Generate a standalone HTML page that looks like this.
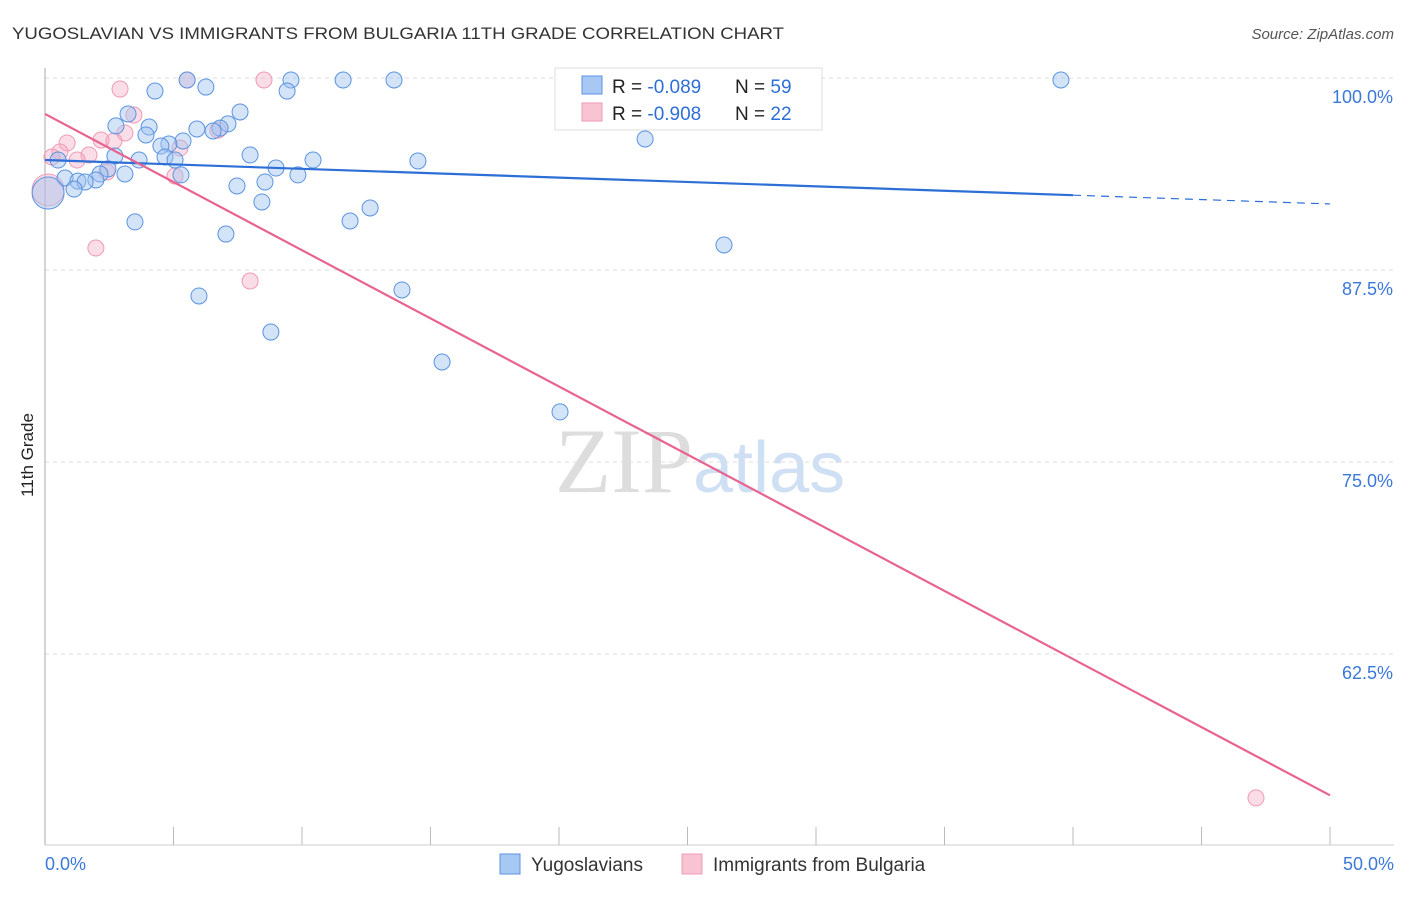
<!DOCTYPE html>
<html><head><meta charset="utf-8"><style>
body{margin:0;background:#fff;font-family:"Liberation Sans",sans-serif;}
</style></head><body>
<svg id="c" width="1406" height="892" xmlns="http://www.w3.org/2000/svg">
<text x="12" y="39" font-size="17" fill="#333" textLength="772" lengthAdjust="spacingAndGlyphs">YUGOSLAVIAN VS IMMIGRANTS FROM BULGARIA 11TH GRADE CORRELATION CHART</text>
<text x="1394" y="39" font-size="15" fill="#555" text-anchor="end" font-style="italic">Source: ZipAtlas.com</text>
<text x="555" y="492" font-size="92" fill="#ddd" font-family="Liberation Serif,serif">ZIP<tspan fill="#cfe0f5" font-family="Liberation Sans,sans-serif" font-size="72">atlas</tspan></text>
<text transform="translate(33,455) rotate(-90)" font-size="17" fill="#222" text-anchor="middle">11th Grade</text>
<g id="grid"></g><g id="pts"></g><g id="lines"></g>
<g>
<rect x="555" y="68" width="267" height="62" fill="#fff" stroke="#ddd"/>
<rect x="582" y="76" width="20" height="18" fill="#a8c8f4" stroke="#5b93e0"/>
<rect x="582" y="103" width="20" height="18" fill="#f8c4d4" stroke="#ef9ab5"/>
<text x="612" y="93" font-size="19" fill="#222">R = <tspan fill="#2d6fd6">-0.089</tspan></text>
<text x="735" y="93" font-size="19" fill="#222">N = <tspan fill="#2d6fd6">59</tspan></text>
<text x="612" y="120" font-size="19" fill="#222">R = <tspan fill="#2d6fd6">-0.908</tspan></text>
<text x="735" y="120" font-size="19" fill="#222">N = <tspan fill="#2d6fd6">22</tspan></text>
</g>
<g>
<rect x="500" y="854" width="20" height="20" fill="#a8c8f4" stroke="#5b93e0"/>
<text x="531" y="871" font-size="19" fill="#333">Yugoslavians</text>
<rect x="682" y="854" width="20" height="20" fill="#f8c4d4" stroke="#ef9ab5"/>
<text x="713" y="871" font-size="19" fill="#333">Immigrants from Bulgaria</text>
</g>
</svg>
<script>
const blueX=[4.28,5.53,6.26,9.57,9.42,11.6,13.58,39.53,20.62,3.23,7.59,2.76,4.05,7.12,6.81,5.91,6.54,3.93,5.37,4.82,4.51,23.35,7.98,2.72,0.51,3.66,4.67,5.06,10.43,14.51,8.99,2.45,2.14,3.11,5.29,9.84,0.78,1.28,1.98,1.56,1.13,7.47,8.56,8.44,12.65,11.87,3.5,7.04,26.42,5.99,13.89,8.79,15.45,20.04,0.12];
const blueY=[99.15,99.87,99.41,99.87,99.15,99.87,99.87,99.87,98.83,97.66,97.79,96.88,96.81,97.01,96.74,96.68,96.55,96.29,95.9,95.7,95.57,96.03,94.99,94.92,94.66,94.66,94.86,94.66,94.66,94.6,94.14,94.08,93.75,93.75,93.69,93.69,93.49,93.29,93.36,93.23,92.77,92.97,93.23,91.93,91.54,90.69,90.63,89.84,89.13,85.81,86.2,83.46,81.51,78.26,92.51];
const pinkX=[5.53,8.52,2.92,3.46,3.11,2.18,0.86,2.68,6.73,5.25,1.71,0.58,0.27,1.25,2.41,5.06,1.98,7.98,47.12,0.12];
const pinkY=[99.87,99.87,99.28,97.59,96.42,95.96,95.77,95.9,96.61,95.44,94.99,95.18,94.86,94.66,93.88,93.62,88.93,86.78,53.13,92.71];
const yTicks=[100,87.5,75,62.5];
const yTickLabels=["100.0%","87.5%","75.0%","62.5%"];
const blueTrend=[94.66,91.8];
const pinkTrend=[97.66,53.3];
const NS="http://www.w3.org/2000/svg";
const X=v=>45+v/50*1285, Y=v=>78+(100-v)/12.5*192;
function mk(t,a,p){const e=document.createElementNS(NS,t);for(const k in a)e.setAttribute(k,a[k]);p.appendChild(e);return e;}
const g=document.getElementById('grid');
yTicks.forEach((t,i)=>{const l=mk('line',{x1:45,x2:1394,y1:Y(t),y2:Y(t),stroke:'#ddd','stroke-dasharray':'4 4'},g);


const tx=mk('text',{x:1393,y:Y(t)+25,'font-size':18,fill:'#3b78d8','text-anchor':'end'},g);tx.textContent=yTickLabels[i];

});
mk('line',{x1:45,x2:45,y1:68,y2:845,stroke:'#aaa'},g);
mk('line',{x1:45,x2:1394,y1:845,y2:845,stroke:'#ccc'},g);
for(let i=1;i<=10;i++){const l=mk('line',{x1:X(i*5),x2:X(i*5),y1:827,y2:845,stroke:'#bbb'},g);

}
[[0,'0.0%','start',45],[50,'50.0%','end',1394]].forEach(a=>{const t=mk('text',{x:a[3],y:870,'font-size':18,fill:'#3b78d8','text-anchor':a[2]},g);t.textContent=a[1];

});
const p=document.getElementById('pts');
pinkX.forEach((x,i)=>{const c=mk('circle',{cx:X(x),cy:Y(pinkY[i]),r:i==pinkX.length-1?16:8,fill:'rgba(244,170,195,0.4)',stroke:'#ef9ab5','stroke-width':1},p);

});
blueX.forEach((x,i)=>{const c=mk('circle',{cx:X(x),cy:Y(blueY[i]),r:i==blueX.length-1?16:8,fill:'rgba(160,196,240,0.45)',stroke:'#5b93e0','stroke-width':1},p);

});
const L=document.getElementById('lines');
const by=v=>blueTrend[0]+(blueTrend[1]-blueTrend[0])*v/50;
let l=mk('line',{x1:X(0),y1:Y(by(0)),x2:X(40),y2:Y(by(40)),stroke:'#2d6fd6','stroke-width':2.2},L);


l=mk('line',{x1:X(40),y1:Y(by(40)),x2:X(50),y2:Y(by(50)),stroke:'#2d6fd6','stroke-width':1.2,'stroke-dasharray':'8 6'},L);


l=mk('line',{x1:X(0),y1:Y(pinkTrend[0]),x2:X(50),y2:Y(pinkTrend[1]),stroke:'#e8648f','stroke-width':2.2},L);


</script>
</body></html>
